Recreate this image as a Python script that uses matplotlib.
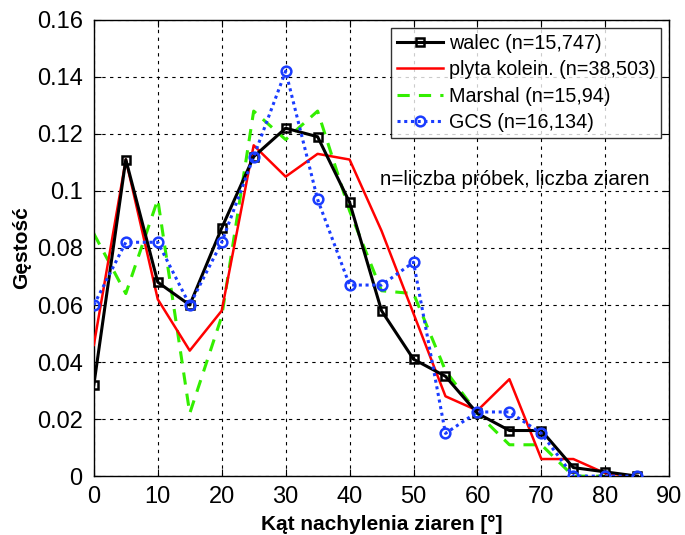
import numpy as np
import matplotlib
matplotlib.use('Agg')
import matplotlib.pyplot as plt

plt.rcParams['font.family'] = ['Liberation Sans', 'DejaVu Sans']

# Kąt nachylenia ziaren [°]
katy = [0, 5, 10, 15, 20, 25, 30, 35, 40, 45, 50, 55, 60, 65, 70, 75, 80, 85]

walec = [0.032, 0.111, 0.068, 0.060, 0.087, 0.112, 0.122, 0.119, 0.096, 0.058,
         0.041, 0.035, 0.022, 0.016, 0.016, 0.003, 0.0015, 0.0]
plyta = [0.046, 0.111, 0.062, 0.044, 0.058, 0.116, 0.105, 0.113, 0.111, 0.086,
         0.057, 0.028, 0.023, 0.034, 0.006, 0.006, 0.001, 0.0]
marshal = [0.085, 0.064, 0.097, 0.022, 0.056, 0.128, 0.118, 0.128, 0.093, 0.065,
           0.064, 0.037, 0.022, 0.011, 0.011, 0.0, 0.0, 0.0]
gcs = [0.060, 0.082, 0.082, 0.060, 0.082, 0.112, 0.142, 0.097, 0.067, 0.067,
       0.075, 0.015, 0.0225, 0.0225, 0.015, 0.0, 0.0, 0.0]

fig = plt.figure(figsize=(6.85, 5.35), dpi=100)
ax = fig.add_axes([0.137, 0.110, 0.840, 0.853])

ax.plot(katy, walec, color='black', lw=2.2, marker='s', ms=6, mfc='none',
        mec='black', mew=1.8, label='walec (n=15,747)', zorder=4)
ax.plot(katy, plyta, color='#ff0000', lw=1.8, label='plyta kolein. (n=38,503)', zorder=3)
ax.plot(katy, marshal, color='#33ee00', lw=2.2, ls=(0, (4, 3)),
        label='Marshal (n=15,94)', zorder=2)
ax.plot(katy, gcs, color='#1a3cff', lw=2.2, ls=(0, (1, 1.2)), marker='o', ms=7,
        mfc='none', mec='#1a3cff', mew=1.8, label='GCS (n=16,134)', zorder=5)

ax.set_xlim(0, 90)
ax.set_ylim(0, 0.16)
ax.set_xticks(np.arange(0, 91, 10))
ax.set_yticks(np.arange(0, 0.161, 0.02))
ax.set_yticklabels(['0', '0.02', '0.04', '0.06', '0.08', '0.1', '0.12', '0.14', '0.16'])
ax.tick_params(direction='in', labelsize=17, length=5, top=True, right=True)
ax.tick_params(axis='x', pad=7)
ax.tick_params(axis='y', pad=8)
ax.grid(True, color='black', ls=(0, (3, 4)), lw=0.8)
for s in ax.spines.values():
    s.set_linewidth(1.0)

ax.set_xlabel('Kąt nachylenia ziaren [°]', fontsize=15, fontweight='bold', labelpad=5)
ax.set_ylabel('Gęstość', fontsize=15, fontweight='bold', labelpad=4)

leg = ax.legend(loc='upper right', fontsize=14.2, frameon=True, fancybox=False,
                edgecolor='black', handlelength=2.3, handletextpad=0.3,
                borderpad=0.3, labelspacing=0.38, borderaxespad=0.4)
leg.get_frame().set_linewidth(1.0)

ax.text(44.7, 0.104, 'n=liczba próbek, liczba ziaren', fontsize=14.8, va='center')

plt.savefig('out.png', dpi=100)
